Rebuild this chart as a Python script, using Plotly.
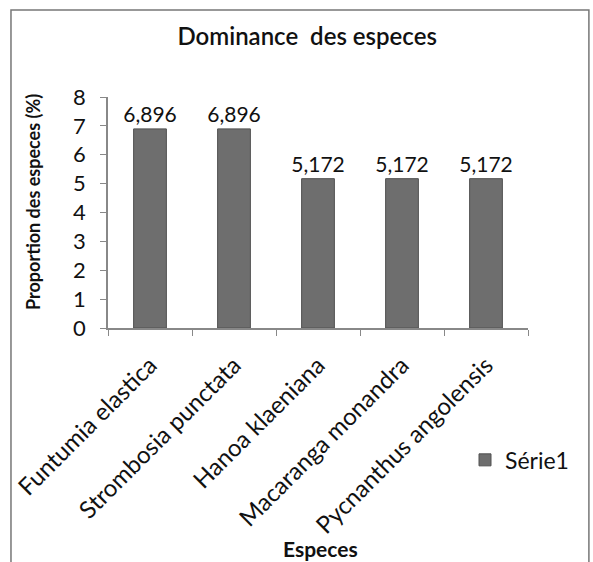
import plotly.graph_objects as go

categories = ["Funtumia elastica", "Strombosia punctata", "Hanoa klaeniana",
              "Macaranga monandra", "Pycnanthus angolensis"]
values = [6.896, 6.896, 5.172, 5.172, 5.172]
series_name = "Série1"
y_ticks = [0, 1, 2, 3, 4, 5, 6, 7, 8]

FONT = "Lato"

fig = go.Figure()
fig.add_trace(go.Bar(
    x=categories, y=values, name=series_name,
    marker=dict(color="#6e6e6e", line=dict(color="#505050", width=1)),
    width=0.39,
    texttemplate="%{y:.3f}", textposition="outside", cliponaxis=False,
    constraintext="none",
    textfont=dict(family=FONT, size=21, color="#111111"),
    showlegend=True,
))

fig.update_layout(
    width=593, height=562,
    paper_bgcolor="white", plot_bgcolor="white",
    separators=", ",
    margin=dict(l=108, r=65, t=97, b=234, autoexpand=False),
    font=dict(family=FONT, color="#111111"),
    title=dict(text="Dominance  des especes", x=0.518, xanchor="center",
               y=0.935, yanchor="middle",
               font=dict(family=FONT, size=24, color="#111111", weight=600)),
    showlegend=True,
    legend=dict(x=0.85, xanchor="left", y=-0.571, yanchor="middle",
                font=dict(family=FONT, size=23), bgcolor="rgba(0,0,0,0)"),
)
fig.update_xaxes(
    automargin=False,
    showline=True, linecolor="#888888", linewidth=1.5,
    ticks="outside", ticklen=6, tickcolor="#888888", tickson="boundaries",
    tickangle=-45, ticklabelstandoff=12,
    tickfont=dict(family=FONT, size=24, color="#111111"),
    showgrid=False,
)
fig.update_yaxes(
    automargin=False,
    range=[0, 8], tickvals=y_ticks,
    showline=True, linecolor="#888888", linewidth=1.5,
    ticks="outside", ticklen=6, tickcolor="#888888", ticklabelstandoff=10,
    tickfont=dict(family=FONT, size=22, color="#111111"),
    showgrid=False, zeroline=False,
)
fig.add_annotation(text="<b>Proportion des especes (%)</b>", textangle=-90,
                   xref="paper", yref="paper", x=-0.179, y=0.545,
                   xanchor="center", yanchor="middle", showarrow=False,
                   font=dict(family=FONT, size=18, color="#111111"))
fig.add_annotation(text="<b>Especes</b>",
                   xref="paper", yref="paper", x=0.505, y=-0.956,
                   xanchor="center", yanchor="middle", showarrow=False,
                   font=dict(family=FONT, size=21, color="#111111"))
fig.add_shape(type="rect", xref="paper", yref="paper",
              x0=-0.231, x1=1.145, y0=-1.08, y1=1.377,
              line=dict(color="#777777", width=1.5))

fig.write_html("out.html", config={"displayModeBar": False},
               post_script="document.body.style.margin='0';document.body.style.overflow='hidden';")
